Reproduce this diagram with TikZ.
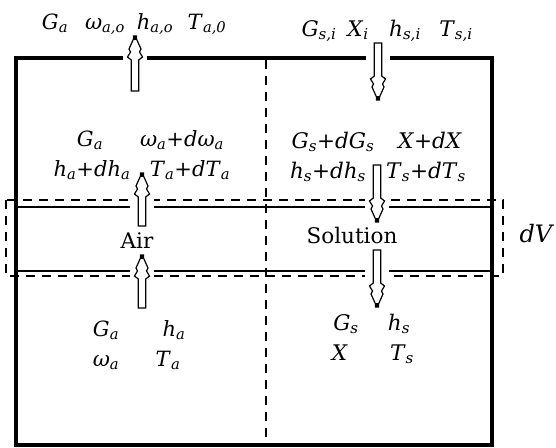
\documentclass[tikz,border=0pt]{standalone}
\usepackage{fontspec}
\setmainfont{DejaVu Serif}

% italic quantity with italic subscript
\newcommand\vq[2]{\textit{#1}\textsubscript{\textit{#2}}}

% hollow block arrow: #1 x, #2 tip y, #3 length, #4 direction (1 = up, -1 = down)
\newcommand\hollowarrow[4]{%
  \begin{scope}[shift={(#1,#2)}, yscale=#4]
    \fill[white] (-12,-2) rectangle (12,#3+2); % opening in the walls
    \draw[blockarr] (-1.5,0) -- (1.5,0) -- (1.5,3) -- (6,13) -- (4.5,16) -- (7.5,21)
      -- (3.7,24) -- (3.7,#3) -- (-3.7,#3) -- (-3.7,24) -- (-7.5,21) -- (-4.5,16)
      -- (-6,13) -- (-1.5,3) -- cycle;
    \fill (-1.5,0) rectangle (1.5,4); % dark tip
  \end{scope}}

\tikzset{
  wall/.style={line width=4.5pt, line join=miter},
  thinline/.style={line width=1.3pt},
  dashline/.style={line width=1.3pt, dash pattern=on 9pt off 7pt},
  blockarr/.style={draw=black, fill=white, line width=1.2pt, line join=miter},
  lbl/.style={anchor=base, inner sep=0pt, font=\fontsize{21}{24}\selectfont},
  lblr/.style={lbl, font=\fontsize{21.5}{25}\selectfont},
}

\begin{document}
\begin{tikzpicture}[
    x=1pt, y=-1pt,          % pixel-like units, y down
    line cap=butt
]
\useasboundingbox (0,0) rectangle (556,447);

%-----------------------
% 1) CHANNEL WALLS AND DIVIDER
%-----------------------
\draw[wall] (16,58) rectangle (492,445);
\draw[dashline] (266,60) -- (266,443);

%-----------------------
% 2) CONTROL VOLUME dV
%-----------------------
\draw[thinline] (16,207) -- (492,207);
\draw[thinline] (16,271) -- (492,271);
\draw[dashline] (6,200) rectangle (503,276);

%-----------------------
% 3) FLOW ARROWS
%-----------------------
% air goes up (left), solution goes down (right)
\hollowarrow{135}{36}{55}{1}
\hollowarrow{142}{173}{53}{1}
\hollowarrow{142}{255}{53}{1}
\hollowarrow{378}{100}{57}{-1}
\hollowarrow{377}{222}{57}{-1}
\hollowarrow{377}{307}{57}{-1}

%-----------------------
% 4) AIR SIDE LABELS
%-----------------------
\node[lbl] (aoutG) at (55,29) {\vq{G}{a}};
\node[lbl] (aoutW) at (105,29) {\vq{ω}{a,o}};
\node[lbl] (aoutH) at (155,29) {\vq{h}{a,o}};
\node[lbl] (aoutT) at (207,29) {\vq{T}{a,0}};

\node[lbl] (aupG) at (90,146) {\vq{G}{a}};
\node[lbl] (aupW) at (182,146) {\vq{ω}{a}+\textit{d}\vq{ω}{a}};
\node[lbl] (aupH) at (92,176) {\vq{h}{a}+\textit{d}\vq{h}{a}};
\node[lbl] (aupT) at (190,176) {\vq{T}{a}+\textit{d}\vq{T}{a}};

\node[lblr] (air) at (137,248) {Air};

\node[lbl] (ainG) at (106,336) {\vq{G}{a}};
\node[lbl] (ainH) at (174,336) {\vq{h}{a}};
\node[lbl] (ainW) at (106,366) {\vq{ω}{a}};
\node[lbl] (ainT) at (168,366) {\vq{T}{a}};

%-----------------------
% 5) SOLUTION SIDE LABELS
%-----------------------
\node[lblr] (sinG) at (319,36) {\vq{G}{s,i}};
\node[lblr] (sinX) at (358,36) {\vq{X}{i}};
\node[lblr] (sinH) at (405,36) {\vq{h}{s,i}};
\node[lblr] (sinT) at (456,36) {\vq{T}{s,i}};

\node[lblr] (supG) at (333,148) {\vq{G}{s}+\textit{d}\vq{G}{s}};
\node[lblr] (supX) at (430,148) {\textit{X}+\textit{dX}};
\node[lblr] (supH) at (328,178) {\vq{h}{s}+\textit{d}\vq{h}{s}};
\node[lblr] (supT) at (426,178) {\vq{T}{s}+\textit{d}\vq{T}{s}};

\node[lblr] (sol) at (352,243) {Solution};

\node[lblr] (soutG) at (346,330) {\vq{G}{s}};
\node[lblr] (soutH) at (399,330) {\vq{h}{s}};
\node[lblr] (soutX) at (340,360) {\textit{X}};
\node[lblr] (soutT) at (402,360) {\vq{T}{s}};

%-----------------------
% 6) VOLUME LABEL
%-----------------------
\node[lbl, font=\fontsize{24}{28}\selectfont] (dv) at (537,242) {\textit{dV}};

\end{tikzpicture}
\end{document}
